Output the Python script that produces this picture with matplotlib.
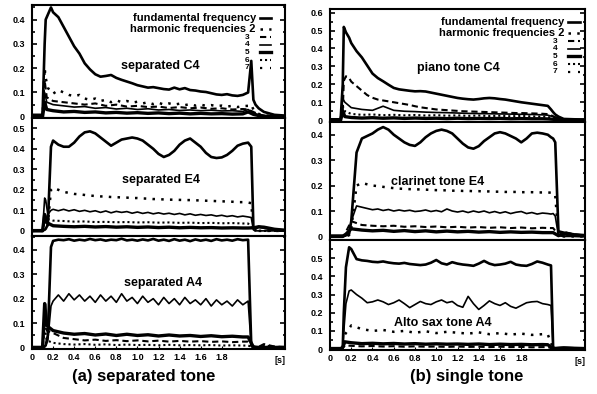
import matplotlib
matplotlib.use("Agg")
import matplotlib.pyplot as plt
from matplotlib.ticker import FixedLocator, FuncFormatter, MultipleLocator

plt.rcParams["font.family"] = ["Liberation Sans", "DejaVu Sans"]

# ---- time grids (s) ----
T = [0.00, 0.05, 0.10, 0.12, 0.13, 0.15, 0.18, 0.20, 0.25, 0.30,
     0.35, 0.40, 0.45, 0.50, 0.55, 0.60, 0.65, 0.70, 0.75, 0.80,
     0.85, 0.90, 0.95, 1.00, 1.05, 1.10, 1.15, 1.20, 1.25, 1.30,
     1.35, 1.40, 1.45, 1.50, 1.55, 1.60, 1.65, 1.70, 1.75, 1.80,
     1.85, 1.90, 1.95, 2.00, 2.05, 2.08, 2.10, 2.12, 2.15, 2.20,
     2.30, 2.40]
TC = [0.00, 0.10, 0.12, 0.14, 0.20, 0.30, 0.40, 0.50, 0.60, 0.70,
      0.80, 0.90, 1.00, 1.10, 1.20, 1.30, 1.40, 1.50, 1.60, 1.70,
      1.80, 1.90, 2.00, 2.05, 2.10, 2.15, 2.20, 2.30, 2.40]

# ---- (a) separated C4 ----
C4S_F = [0.008, 0.008, 0.008, 0.30, 0.40, 0.42, 0.45, 0.43, 0.41, 0.37,
         0.33, 0.29, 0.26, 0.22, 0.195, 0.175, 0.165, 0.168, 0.172, 0.16,
         0.152, 0.145, 0.138, 0.13, 0.125, 0.12, 0.122, 0.118, 0.114, 0.112,
         0.12, 0.113, 0.118, 0.11, 0.108, 0.104, 0.102, 0.097, 0.092, 0.09,
         0.093, 0.088, 0.086, 0.09, 0.10, 0.23, 0.07, 0.05, 0.035, 0.02,
         0.008, 0.005]
C4S_H2 = [0.0, 0.0, 0.0, 0.20, 0.16, 0.12, 0.10, 0.095, 0.11, 0.10,
          0.09, 0.085, 0.09, 0.075, 0.07, 0.075, 0.065, 0.07, 0.06, 0.068,
          0.06, 0.065, 0.058, 0.062, 0.055, 0.06, 0.052, 0.058, 0.05, 0.055,
          0.05, 0.054, 0.048, 0.052, 0.046, 0.05, 0.045, 0.048, 0.044, 0.046,
          0.042, 0.045, 0.04, 0.044, 0.045, 0.05, 0.03, 0.02, 0.012, 0.006,
          0.002, 0.0]
C4S_H3 = [0, 0, 0.15, 0.08, 0.065, 0.06, 0.055, 0.05, 0.055, 0.045,
          0.05, 0.042, 0.045, 0.04, 0.042, 0.036, 0.04, 0.035, 0.038, 0.033,
          0.035, 0.03, 0.032, 0.03, 0.02, 0.01, 0.005, 0.0, 0.0]
C4S_H4 = [0, 0, 0.10, 0.06, 0.05, 0.045, 0.04, 0.042, 0.035, 0.038,
          0.032, 0.035, 0.03, 0.033, 0.028, 0.03, 0.026, 0.028, 0.025, 0.027,
          0.024, 0.025, 0.022, 0.03, 0.015, 0.008, 0.004, 0, 0]
C4S_H5 = [0, 0, 0.06, 0.03, 0.025, 0.02, 0.022, 0.018, 0.02, 0.016,
          0.018, 0.015, 0.017, 0.014, 0.016, 0.013, 0.015, 0.012, 0.014, 0.012,
          0.013, 0.011, 0.012, 0.02, 0.01, 0.005, 0.002, 0, 0]

# ---- (a) separated E4 ----
E4S_F = [0.003, 0.003, 0.003, 0.005, 0.01, 0.03, 0.41, 0.44, 0.42, 0.41,
         0.41, 0.43, 0.46, 0.48, 0.485, 0.475, 0.455, 0.435, 0.415, 0.43,
         0.445, 0.45, 0.455, 0.45, 0.44, 0.42, 0.40, 0.375, 0.36, 0.37,
         0.39, 0.42, 0.44, 0.45, 0.43, 0.41, 0.38, 0.36, 0.355, 0.358,
         0.37, 0.39, 0.415, 0.425, 0.43, 0.41, 0.02, 0.01, 0.02, 0.015,
         0.005, 0.003]
E4S_H2 = [0, 0, 0, 0.005, 0.01, 0.03, 0.20, 0.21, 0.20, 0.19,
          0.185, 0.18, 0.178, 0.175, 0.172, 0.17, 0.168, 0.167, 0.165, 0.164,
          0.163, 0.162, 0.16, 0.16, 0.158, 0.157, 0.155, 0.155, 0.153, 0.152,
          0.152, 0.151, 0.15, 0.15, 0.149, 0.148, 0.147, 0.146, 0.145, 0.144,
          0.143, 0.142, 0.14, 0.14, 0.138, 0.135, 0.005, 0, 0, 0,
          0, 0]
E4S_H3 = [0, 0, 0, 0.16, 0.15, 0.08, 0.10, 0.105, 0.098, 0.105,
          0.097, 0.103, 0.095, 0.10, 0.093, 0.098, 0.09, 0.097, 0.088, 0.095,
          0.09, 0.094, 0.086, 0.092, 0.085, 0.09, 0.083, 0.088, 0.082, 0.086,
          0.08, 0.085, 0.078, 0.083, 0.076, 0.08, 0.075, 0.078, 0.072, 0.076,
          0.07, 0.074, 0.068, 0.072, 0.068, 0.065, 0.005, 0, 0, 0,
          0, 0]
E4S_H4 = [0, 0, 0.05, 0.06, 0.05, 0.048, 0.045, 0.046, 0.043, 0.044,
          0.042, 0.043, 0.041, 0.042, 0.04, 0.041, 0.039, 0.04, 0.038, 0.039,
          0.037, 0.038, 0.036, 0.036, 0.003, 0, 0, 0, 0]
E4S_H5 = [0, 0, 0.08, 0.04, 0.025, 0.022, 0.02, 0.022, 0.019, 0.021,
          0.018, 0.02, 0.017, 0.019, 0.016, 0.018, 0.015, 0.017, 0.015, 0.016,
          0.014, 0.015, 0.014, 0.014, 0.015, 0.02, 0.018, 0.008, 0.003]

# ---- (a) separated A4 ----
A4S_F = [0.003, 0.003, 0.003, 0.005, 0.01, 0.05, 0.41, 0.435, 0.44, 0.438,
         0.442, 0.436, 0.44, 0.437, 0.443, 0.438, 0.441, 0.436, 0.44, 0.438,
         0.444, 0.437, 0.44, 0.436, 0.441, 0.437, 0.443, 0.436, 0.44, 0.435,
         0.442, 0.436, 0.44, 0.434, 0.441, 0.436, 0.44, 0.435, 0.442, 0.437,
         0.44, 0.436, 0.442, 0.438, 0.44, 0.01, 0.005, 0.003, 0.003, 0.003,
         0.003, 0.003]
A4S_H2 = [0, 0, 0, 0.005, 0.01, 0.03, 0.17, 0.19, 0.215, 0.19,
          0.22, 0.195, 0.215, 0.19, 0.21, 0.185, 0.215, 0.19, 0.21, 0.185,
          0.22, 0.19, 0.205, 0.18, 0.21, 0.185, 0.20, 0.175, 0.205, 0.18,
          0.20, 0.175, 0.205, 0.18, 0.195, 0.175, 0.20, 0.17, 0.195, 0.175,
          0.19, 0.17, 0.195, 0.175, 0.19, 0.005, 0, 0, 0, 0,
          0, 0]
A4S_H3 = [0, 0, 0.18, 0.09, 0.07, 0.06, 0.055, 0.058, 0.052, 0.056,
          0.05, 0.055, 0.05, 0.053, 0.048, 0.052, 0.048, 0.05, 0.046, 0.049,
          0.045, 0.047, 0.044, 0.044, 0.003, 0, 0, 0, 0]
A4S_H4 = [0, 0, 0.12, 0.07, 0.06, 0.04, 0.035, 0.03, 0.033, 0.028,
          0.031, 0.027, 0.03, 0.026, 0.029, 0.025, 0.028, 0.025, 0.027, 0.024,
          0.026, 0.023, 0.025, 0.025, 0.002, 0.004, 0.015, 0.005, 0.003]
A4S_H5 = [0, 0, 0.08, 0.03, 0.02, 0.015, 0.013, 0.015, 0.012, 0.014,
          0.011, 0.013, 0.011, 0.012, 0.01, 0.012, 0.01, 0.011, 0.01, 0.011,
          0.009, 0.01, 0.009, 0.009, 0.002, 0.003, 0.01, 0.004, 0.002]

# ---- (b) piano tone C4 ----
PC4_F = [0.005, 0.005, 0.005, 0.20, 0.52, 0.49, 0.46, 0.43, 0.385, 0.35,
         0.305, 0.26, 0.235, 0.217, 0.198, 0.18, 0.172, 0.168, 0.164, 0.161,
         0.162, 0.16, 0.154, 0.148, 0.142, 0.136, 0.13, 0.124, 0.12, 0.117,
         0.115, 0.118, 0.122, 0.124, 0.122, 0.118, 0.115, 0.11, 0.105, 0.10,
         0.096, 0.092, 0.088, 0.084, 0.08, 0.06, 0.045, 0.032, 0.02, 0.007,
         0.005, 0.004]
PC4_H2 = [0, 0, 0, 0.05, 0.22, 0.245, 0.235, 0.215, 0.19, 0.165,
          0.14, 0.125, 0.115, 0.11, 0.105, 0.10, 0.095, 0.09, 0.085, 0.078,
          0.072, 0.068, 0.064, 0.06, 0.058, 0.056, 0.054, 0.052, 0.05, 0.049,
          0.048, 0.047, 0.046, 0.045, 0.044, 0.043, 0.042, 0.041, 0.04, 0.04,
          0.039, 0.038, 0.037, 0.036, 0.034, 0.028, 0.022, 0.016, 0.01, 0.004,
          0.002, 0.001]
PC4_H3 = [0, 0, 0.12, 0.10, 0.07, 0.06, 0.055, 0.078, 0.055, 0.05,
          0.048, 0.045, 0.043, 0.042, 0.04, 0.038, 0.037, 0.036, 0.035, 0.034,
          0.033, 0.032, 0.03, 0.028, 0.02, 0.012, 0.005, 0.002, 0.001]
PC4_H4 = [0, 0, 0.08, 0.05, 0.035, 0.03, 0.032, 0.028, 0.03, 0.027,
          0.029, 0.026, 0.028, 0.025, 0.027, 0.024, 0.026, 0.023, 0.025, 0.022,
          0.024, 0.021, 0.02, 0.018, 0.012, 0.006, 0.003, 0.001, 0]
PC4_H5 = [0, 0, 0.05, 0.02, 0.015, 0.012, 0.014, 0.011, 0.013, 0.01,
          0.012, 0.01, 0.011, 0.009, 0.011, 0.009, 0.01, 0.009, 0.01, 0.008,
          0.009, 0.008, 0.008, 0.007, 0.005, 0.003, 0.001, 0, 0]

# ---- (b) clarinet tone E4 ----
CE4_F = [0.003, 0.003, 0.003, 0.003, 0.003, 0.005, 0.01, 0.06, 0.33, 0.385,
         0.395, 0.405, 0.42, 0.43, 0.42, 0.40, 0.385, 0.37, 0.36, 0.356,
         0.37, 0.39, 0.405, 0.415, 0.42, 0.415, 0.405, 0.385, 0.365, 0.35,
         0.345, 0.355, 0.375, 0.39, 0.405, 0.41, 0.405, 0.395, 0.385, 0.37,
         0.385, 0.405, 0.408, 0.405, 0.40, 0.39, 0.385, 0.37, 0.02, 0.015,
         0.008, 0.005]
CE4_H2 = [0, 0, 0, 0, 0, 0, 0.005, 0.03, 0.20, 0.21,
          0.205, 0.20, 0.198, 0.195, 0.192, 0.19, 0.188, 0.187, 0.186, 0.185,
          0.185, 0.184, 0.183, 0.182, 0.182, 0.181, 0.18, 0.18, 0.179, 0.179,
          0.178, 0.178, 0.177, 0.177, 0.176, 0.176, 0.175, 0.175, 0.175, 0.174,
          0.174, 0.174, 0.173, 0.173, 0.173, 0.172, 0.172, 0.16, 0.005, 0,
          0, 0]
CE4_H3 = [0, 0, 0, 0, 0, 0.003, 0.02, 0.06, 0.12, 0.115,
          0.11, 0.105, 0.108, 0.102, 0.106, 0.10, 0.104, 0.10, 0.103, 0.098,
          0.10, 0.104, 0.098, 0.102, 0.097, 0.108, 0.10, 0.096, 0.10, 0.094,
          0.10, 0.095, 0.10, 0.093, 0.098, 0.092, 0.097, 0.09, 0.095, 0.098,
          0.09, 0.094, 0.088, 0.092, 0.09, 0.088, 0.09, 0.08, 0.003, 0,
          0, 0]
CE4_H4 = [0, 0, 0, 0.01, 0.06, 0.045, 0.042, 0.04, 0.042, 0.038,
          0.04, 0.037, 0.039, 0.036, 0.038, 0.035, 0.037, 0.034, 0.036, 0.033,
          0.035, 0.032, 0.034, 0.033, 0.033, 0.005, 0.018, 0.008, 0.004]
CE4_H5 = [0, 0, 0, 0.005, 0.03, 0.025, 0.022, 0.024, 0.02, 0.023,
          0.019, 0.022, 0.018, 0.021, 0.018, 0.02, 0.017, 0.019, 0.016, 0.018,
          0.016, 0.017, 0.015, 0.015, 0.015, 0.003, 0.01, 0.004, 0.002]

# ---- (b) alto sax tone A4 ----
AS_F = [0.005, 0.005, 0.005, 0.01, 0.20, 0.45, 0.56, 0.55, 0.495, 0.488,
        0.485, 0.48, 0.478, 0.482, 0.476, 0.472, 0.47, 0.474, 0.468, 0.465,
        0.462, 0.465, 0.475, 0.49, 0.472, 0.465, 0.478, 0.47, 0.465, 0.462,
        0.458, 0.47, 0.485, 0.47, 0.462, 0.465, 0.47, 0.48, 0.465, 0.46,
        0.458, 0.468, 0.482, 0.475, 0.465, 0.46, 0.01, 0.005, 0.006, 0.008,
        0.005, 0.004]
AS_H2 = [0, 0, 0, 0.01, 0.10, 0.25, 0.32, 0.325, 0.30, 0.28,
         0.255, 0.26, 0.27, 0.26, 0.245, 0.255, 0.27, 0.25, 0.228, 0.245,
         0.262, 0.25, 0.245, 0.26, 0.27, 0.255, 0.262, 0.24, 0.23, 0.29,
         0.25, 0.218, 0.24, 0.265, 0.25, 0.24, 0.255, 0.235, 0.225, 0.24,
         0.255, 0.26, 0.262, 0.25, 0.245, 0.24, 0.005, 0, 0, 0,
         0, 0]
AS_H3 = [0, 0, 0.02, 0.08, 0.13, 0.11, 0.10, 0.105, 0.095, 0.10,
         0.09, 0.098, 0.088, 0.095, 0.09, 0.085, 0.092, 0.082, 0.088, 0.08,
         0.085, 0.078, 0.082, 0.08, 0.003, 0, 0, 0, 0]
AS_H4 = [0, 0, 0.01, 0.04, 0.035, 0.03, 0.032, 0.029, 0.031, 0.028,
         0.03, 0.027, 0.029, 0.027, 0.028, 0.026, 0.028, 0.025, 0.027, 0.025,
         0.026, 0.024, 0.025, 0.024, 0.002, 0.004, 0.006, 0.004, 0.003]
AS_H5 = [0, 0, 0.005, 0.02, 0.018, 0.015, 0.017, 0.014, 0.016, 0.013,
         0.015, 0.013, 0.014, 0.012, 0.014, 0.012, 0.013, 0.011, 0.013, 0.011,
         0.012, 0.01, 0.011, 0.011, 0.002, 0.003, 0.005, 0.003, 0.002]

X_TICKS = [0, 0.2, 0.4, 0.6, 0.8, 1.0, 1.2, 1.4, 1.6, 1.8]
X_LABELS = ["0", "0.2", "0.4", "0.6", "0.8", "1.0", "1.2", "1.4", "1.6", "1.8"]
KEY_NAMES = ["fundamental frequency", "harmonic frequencies 2"]
KEY_DIGITS = ["3", "4", "5", "6", "7"]

# line style per curve: "f" = fundamental, digits = harmonic number
STYLE = {
  "f": dict(ls="-", lw=1.9),
  2: dict(ls=(0, (1, 2.5)), lw=1.8),
  3: dict(ls=(0, (3, 1.8)), lw=1.5),
  4: dict(ls="-", lw=1.2),
  5: dict(ls="-", lw=2.4),
  6: dict(ls=(0, (1, 1.4)), lw=1.5),
  7: dict(ls=(0, (1, 3.5)), lw=1.6),
}

W, H = 597, 394


def rect(x0, x1, y0, y1):
  return [x0 / W, 1 - y1 / H, (x1 - x0) / W, (y1 - y0) / H]


PANELS = [
  dict(box=rect(32, 285, 5, 118), ylim=(-0.005, 0.46), yt=[0, 0.1, 0.2, 0.3, 0.4],
       label="separated C4", lpos=(0.506, 0.46),
       curves=[(T, C4S_F, "f"), (T, C4S_H2, 2), (TC, C4S_H3, 3), (TC, C4S_H4, 4), (TC, C4S_H5, 5)],
       bottom=False, key=(0.885, 0.85, 0.90, 0.945)),
  dict(box=rect(32, 285, 118, 236), ylim=(-0.025, 0.55), yt=[0, 0.1, 0.2, 0.3, 0.4, 0.5],
       label="separated E4", lpos=(0.51, 0.475),
       curves=[(T, E4S_F, "f"), (T, E4S_H2, 2), (T, E4S_H3, 4), (TC, E4S_H4, 6), (TC, E4S_H5, 5)],
       bottom=False, key=None),
  dict(box=rect(32, 285, 236, 349), ylim=(-0.005, 0.455), yt=[0, 0.1, 0.2, 0.3, 0.4],
       label="separated A4", lpos=(0.518, 0.584),
       curves=[(T, A4S_F, "f"), (T, A4S_H2, 4), (TC, A4S_H3, 5), (TC, A4S_H4, 3), (TC, A4S_H5, 6)],
       bottom=True, key=None),
  dict(box=rect(330, 585, 9, 122), ylim=(-0.01, 0.62), yt=[0, 0.1, 0.2, 0.3, 0.4, 0.5, 0.6],
       label="piano tone C4", lpos=(0.502, 0.478),
       curves=[(T, PC4_F, "f"), (T, PC4_H2, 3), (TC, PC4_H3, 4), (TC, PC4_H4, 6), (TC, PC4_H5, 5)],
       bottom=False, key=(0.92, 0.882, 0.933, 0.98)),
  dict(box=rect(330, 585, 122, 240), ylim=(-0.014, 0.45), yt=[0, 0.1, 0.2, 0.3, 0.4],
       label="clarinet tone E4", lpos=(0.424, 0.49),
       curves=[(T, CE4_F, "f"), (T, CE4_H2, 2), (T, CE4_H3, 4), (TC, CE4_H4, 3), (TC, CE4_H5, 5)],
       bottom=False, key=None),
  dict(box=rect(330, 585, 240, 350), ylim=(-0.005, 0.6), yt=[0, 0.1, 0.2, 0.3, 0.4, 0.5],
       label="Alto sax tone A4", lpos=(0.443, 0.245),
       curves=[(T, AS_F, "f"), (T, AS_H2, 4), (TC, AS_H3, 2), (TC, AS_H4, 5), (TC, AS_H5, 3)],
       bottom=True, key=None),
]

KEY_ROWS = [0.885, 0.785, 0.715, 0.647, 0.58, 0.512, 0.445]


def draw_key(ax, text_x, digit_x, x0, x1):
  for name, y in zip(KEY_NAMES, KEY_ROWS[:2]):
    ax.text(text_x, y, name, transform=ax.transAxes, ha="right", va="center",
            fontsize=8, fontweight="bold")
  # harmonic numbers 3..7 stacked as one column next to the samples
  ax.text(digit_x, KEY_ROWS[4], "\n".join(KEY_DIGITS), transform=ax.transAxes,
          ha="center", va="center", fontsize=6, fontweight="bold", linespacing=1.12)
  for key, y in zip(["f", 2, 3, 4, 5, 6, 7], KEY_ROWS):
    ax.plot([x0, x1], [y, y], transform=ax.transAxes, color="black", **STYLE[key])


fig = plt.figure(figsize=(W / 100, H / 100), dpi=100)
yfmt = FuncFormatter(lambda v, _: "0" if abs(v) < 1e-9 else f"{v:.1f}")

for p in PANELS:
  ax = fig.add_axes(p["box"])
  for t, v, key in p["curves"]:
    ax.plot(t, v, color="black", solid_joinstyle="round", **STYLE[key])
  ax.set_xlim(0, 2.4)
  ax.set_ylim(*p["ylim"])
  ax.yaxis.set_major_locator(FixedLocator(p["yt"]))
  ax.yaxis.set_minor_locator(MultipleLocator(0.05))
  ax.yaxis.set_major_formatter(yfmt)
  ax.tick_params(axis="y", which="both", left=True, right=True, direction="in",
                 labelsize=6.5, pad=5, width=1.2)
  ax.tick_params(axis="y", which="major", length=3.5)
  ax.tick_params(axis="y", which="minor", length=1.8)
  for lab in ax.get_yticklabels():
    lab.set_fontweight("bold")
  if p["bottom"]:
    ax.set_xticks(X_TICKS)
    ax.set_xticklabels(X_LABELS, fontsize=6.5, fontweight="bold")
    ax.tick_params(axis="x", direction="in", length=2, pad=3)
    ax.text(2.35, -0.06, "[s]", transform=ax.get_xaxis_transform(), ha="center", va="top",
            fontsize=6.5, fontweight="bold")
  else:
    ax.tick_params(axis="x", bottom=False, labelbottom=False)
  for s in ax.spines.values():
    s.set_linewidth(1.5)
  ax.text(*p["lpos"], p["label"], transform=ax.transAxes, ha="center", va="center",
          fontsize=9, fontweight="bold")
  if p["key"]:
    draw_key(ax, *p["key"])

fig.text(144 / W, 1 - 377 / H, "(a) separated tone", ha="center", va="center",
         fontsize=12, fontweight="bold")
fig.text(467 / W, 1 - 377 / H, "(b) single tone", ha="center", va="center",
         fontsize=12, fontweight="bold")

fig.savefig("out.png", dpi=100)
